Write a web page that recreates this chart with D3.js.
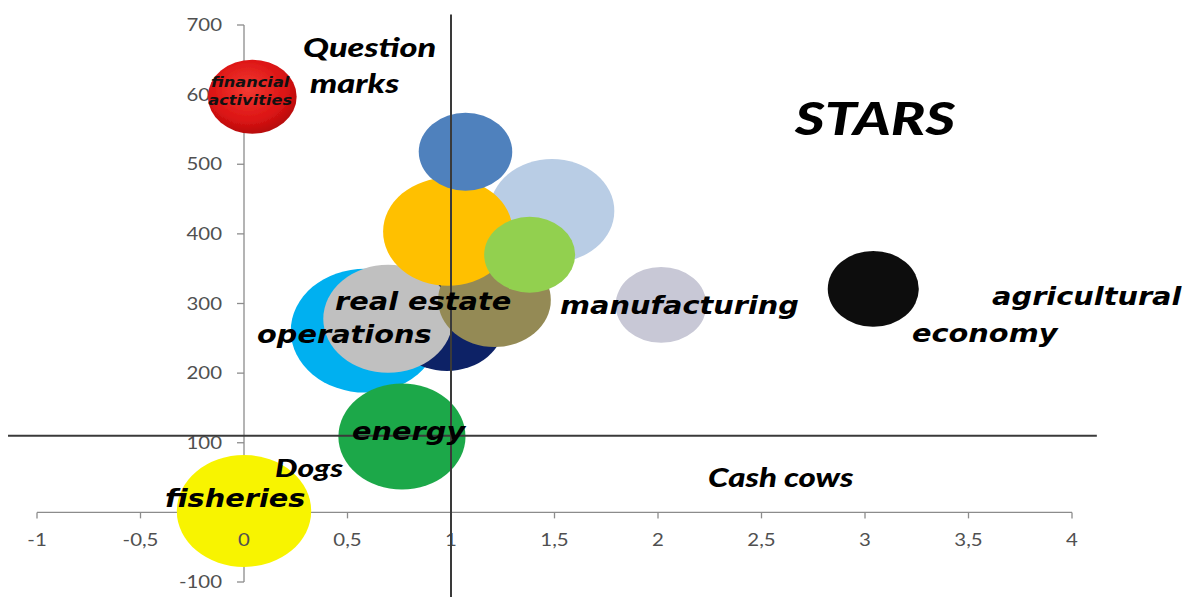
<!DOCTYPE html>
<html>
<head>
<meta charset="utf-8">
<script src="https://cdn.jsdelivr.net/npm/d3@7"></script>
<style>
  html, body { margin: 0; padding: 0; background: #fff; }
  svg { display: block; }
</style>
</head>
<body>
<div id="chart"></div>
<script>
// bubble data (x = relative growth, y = index, size = bubble weight), drawn back to front
const sectors = ['operations', 'sector navy', 'real estate', 'sector olive', 'sector light blue',
  'sector orange', 'sector light green', 'sector steel blue', 'financial activities',
  'energy', 'fisheries', 'manufacturing', 'agricultural economy'];
const xValues = [0.585, 0.98, 0.696, 1.21, 1.488, 0.985, 1.38, 1.07, 0.04, 0.763, 0.0, 2.015, 3.04];
const yValues = [261, 272, 278, 305, 433, 403, 370, 518, 597, 109, 2, 298, 321];
const sizes = [384, 230, 292, 221, 270, 292, 144, 152, 137, 281, 314, 144, 144];
const colors = ['#00b0f0', '#0b2466', '#c0c0c0', '#948a54', '#b9cde5', '#ffc000', '#92d050',
  '#4f81bd', 'url(#redGrad)', '#1ea84a', '#f8f400', '#c8c8d6', '#0a0a0a'];

const xTicks = [-1, -0.5, 0, 0.5, 1, 1.5, 2, 2.5, 3, 3.5, 4];
const yTicks = [-100, 0, 100, 200, 300, 400, 500, 600, 700];
const yTickLabels = [-100, 100, 200, 300, 400, 500, 600, 700]; // the 0 label is hidden in the original

// quadrant dividers (data units)
const dividerX = 1, dividerYSpan = [-125, 715];
const dividerY = 110, dividerXSpan = [-1.14, 4.12];

// annotations
const sectorLabels = ['real estate', 'operations', 'manufacturing', 'agricultural', 'economy', 'energy', 'fisheries'];
const sectorLabelX = [0.44, 0.063, 1.527, 3.614, 3.227, 0.522, -0.382];
const sectorLabelY = [291, 243, 285, 298, 244, 104, 8];
const quadrantLabels = ['Question', 'marks', 'STARS', 'Dogs', 'Cash cows'];
const quadrantLabelX = [0.285, 0.319, 2.662, 0.15, 2.242];
const quadrantLabelY = [654, 603, 542, 51, 36];
const quadrantLabelSize = [27, 27, 45, 25, 26];
const financeLines = ['financial', 'activities'];
const financeLineY = [611, 585];

const W = 1183, H = 597;
const stretch = 1.2; // the picture is drawn a bit wider than tall

const svg = d3.select('#chart').append('svg')
  .attr('width', W).attr('height', H);

const defs = svg.append('defs');
const rg = defs.append('radialGradient').attr('id', 'redGrad')
  .attr('cx', '45%').attr('cy', '40%').attr('r', '60%');
rg.append('stop').attr('offset', '0%').attr('stop-color', '#f23a32');
rg.append('stop').attr('offset', '70%').attr('stop-color', '#dc1414');
rg.append('stop').attr('offset', '100%').attr('stop-color', '#b80c0c');
defs.append('filter').attr('id', 'soft')
  .append('feGaussianBlur').attr('stdDeviation', 0.7);

const x = d3.scaleLinear().domain([-1, 4]).range([37, 1072]);
const y = d3.scaleLinear().domain([-100, 700]).range([582, 25]);
const r = d3.scaleSqrt().domain([0, 400]).range([0, 63.2]);

const data = sectors.map((name, i) => ({
  name, x: xValues[i], y: yValues[i], size: sizes[i], color: colors[i]
}));

const axisColor = '#8c8c8c';
const tickText = '#505050';

// y axis (under bubbles)
const yAxis = svg.append('g');
yAxis.append('line')
  .attr('x1', x(0)).attr('x2', x(0))
  .attr('y1', y(700)).attr('y2', y(-100))
  .attr('stroke', axisColor).attr('stroke-width', 1.3);
yAxis.selectAll('.yt').data(yTicks).enter().append('line')
  .attr('x1', x(0) - 7).attr('x2', x(0))
  .attr('y1', d => y(d)).attr('y2', d => y(d))
  .attr('stroke', axisColor).attr('stroke-width', 1.3);
yAxis.selectAll('.yl').data(yTickLabels).enter().append('text')
  .attr('transform', d => `translate(${x(0) - 22},${y(d) + 6}) scale(${stretch},1)`)
  .attr('text-anchor', 'end')
  .attr('font-family', 'Lato, "Open Sans", sans-serif')
  .attr('font-size', 17)
  .attr('fill', tickText)
  .text(d => d);

// x axis line
const xAxis = svg.append('g');
xAxis.append('line')
  .attr('x1', x(-1)).attr('x2', x(4))
  .attr('y1', y(0)).attr('y2', y(0))
  .attr('stroke', axisColor).attr('stroke-width', 1.3);
xAxis.selectAll('.xt').data(xTicks).enter().append('line')
  .attr('x1', d => x(d)).attr('x2', d => x(d))
  .attr('y1', y(0)).attr('y2', y(0) + 6)
  .attr('stroke', axisColor).attr('stroke-width', 1.3);

// bubbles
svg.append('g').selectAll('ellipse').data(data).enter().append('ellipse')
  .attr('cx', d => x(d.x))
  .attr('cy', d => y(d.y))
  .attr('rx', d => r(d.size) * stretch)
  .attr('ry', d => r(d.size))
  .attr('fill', d => d.color)
  .attr('filter', 'url(#soft)');

// x tick labels sit over the bubbles
const fmt = d => String(d).replace('.', ',');
svg.append('g').selectAll('text').data(xTicks).enter().append('text')
  .attr('transform', d => `translate(${x(d)},${y(0) + 34}) scale(${stretch},1)`)
  .attr('text-anchor', 'middle')
  .attr('font-family', 'Lato, "Open Sans", sans-serif')
  .attr('font-size', 17)
  .attr('fill', tickText)
  .text(fmt);

// quadrant dividers
svg.append('line')
  .attr('x1', x(dividerX)).attr('x2', x(dividerX))
  .attr('y1', y(dividerYSpan[1])).attr('y2', y(dividerYSpan[0]))
  .attr('stroke', '#3a3a3a').attr('stroke-width', 2);
svg.append('line')
  .attr('x1', x(dividerXSpan[0])).attr('x2', x(dividerXSpan[1]))
  .attr('y1', y(dividerY)).attr('y2', y(dividerY))
  .attr('stroke', '#3a3a3a').attr('stroke-width', 2);

// sector labels
svg.append('g').selectAll('text').data(sectorLabels).enter().append('text')
  .attr('transform', (d, i) => `translate(${x(sectorLabelX[i])},${y(sectorLabelY[i])}) scale(${stretch},1)`)
  .attr('font-family', '"DejaVu Sans", Verdana, sans-serif')
  .attr('font-weight', 'bold')
  .attr('font-style', 'italic')
  .attr('font-size', 24)
  .attr('fill', '#000')
  .text(d => d);

svg.append('g').selectAll('text').data(financeLines).enter().append('text')
  .attr('transform', (d, i) => `translate(${x(0.03)},${y(financeLineY[i])}) scale(${stretch},1)`)
  .attr('text-anchor', 'middle')
  .attr('font-family', '"DejaVu Sans", Verdana, sans-serif')
  .attr('font-weight', 'bold')
  .attr('font-style', 'italic')
  .attr('font-size', 13.5)
  .attr('fill', '#111')
  .text(d => d);

// quadrant names
svg.append('g').selectAll('text').data(quadrantLabels).enter().append('text')
  .attr('transform', (d, i) => `translate(${x(quadrantLabelX[i])},${y(quadrantLabelY[i])}) scale(1.27,1)`)
  .attr('font-family', 'Lato, "Open Sans", sans-serif')
  .attr('font-weight', 900)
  .attr('font-style', 'italic')
  .attr('font-size', (d, i) => quadrantLabelSize[i])
  .attr('fill', '#000')
  .text(d => d);
</script>
</body>
</html>
